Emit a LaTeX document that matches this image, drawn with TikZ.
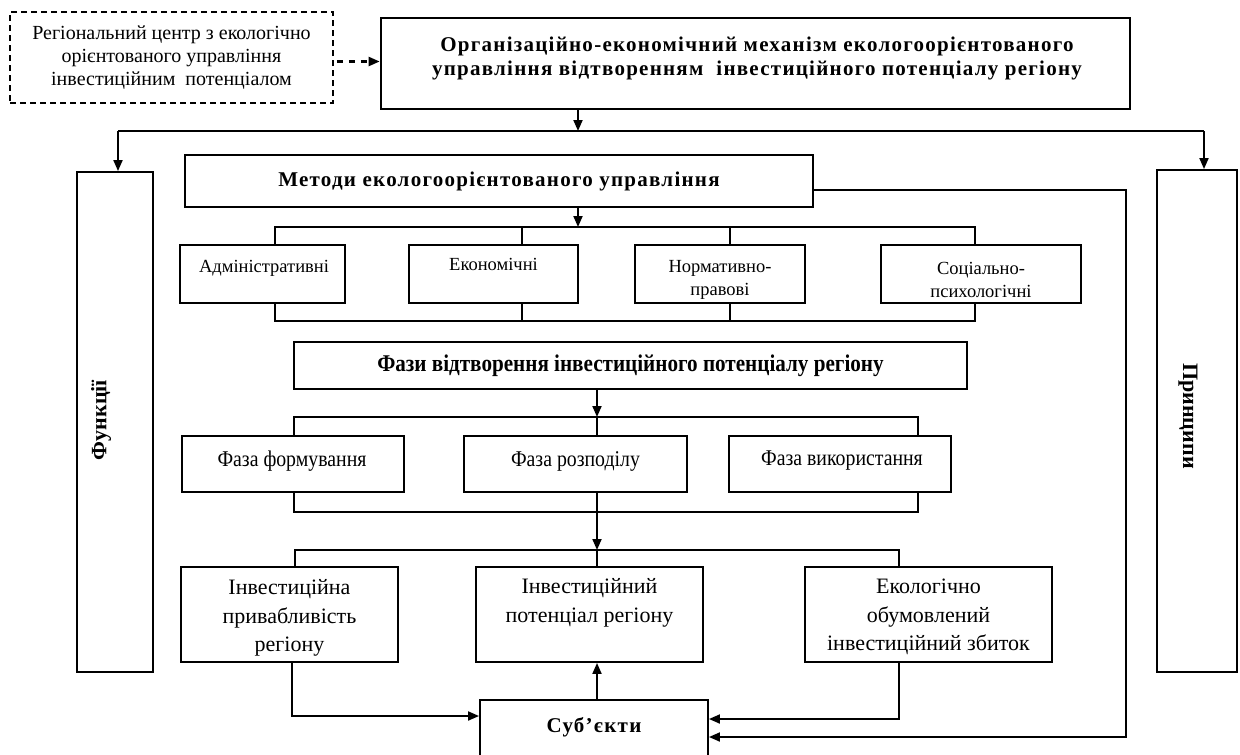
\documentclass[tikz,border=0pt]{standalone}
\usepackage{fontspec}
\setmainfont{Liberation Serif}
\newfontfamily\spaced[LetterSpace=6]{Liberation Serif}
\newfontfamily\narrowrm[FakeStretch=0.88]{Liberation Serif}
\usetikzlibrary{arrows.meta}

\begin{document}
\begin{tikzpicture}[x=1pt,y=-1pt,
  box/.style={draw, line width=1.9pt, inner sep=0pt},
  txt/.style={align=center, inner sep=0pt},
  conn/.style={line width=1.9pt},
  arr/.style={conn, -{Triangle[length=11pt,width=9pt]}},
  smalltxt/.style={txt, font=\fontsize{20}{23}\selectfont},
  methtxt/.style={txt, font=\fontsize{18.5}{23}\selectfont},
  phasetxt/.style={txt, font=\narrowrm\fontsize{22.5}{24}\selectfont},
  bigtxt/.style={txt, font=\fontsize{22}{28.5}\selectfont},
  headtxt/.style={txt, font=\spaced\bfseries\fontsize{20}{24}\selectfont}]
\useasboundingbox (0,0) rectangle (1240,755);

% --- top row: regional centre and the mechanism
\node[box, dashed, dash pattern=on 6pt off 4pt, minimum width=323pt, minimum height=91pt] (centre) at (171.5,57.5) {};
\node[smalltxt] (centreT) at (centre.center) {Регіональний центр з екологічно\\орієнтованого управління\\інвестиційним\ \ потенціалом};
\node[box, line width=2.7pt, minimum width=749pt, minimum height=91pt] (main) at (755.5,63.5) {};
\node[headtxt, font=\spaced\bfseries\fontsize{21}{24}\selectfont] (mainT) at (757,58) {Організаційно-економічний механізм екологоорієнтованого\\управління відтворенням\ \ інвестиційного потенціалу регіону};
\draw[line width=2.2pt, dash pattern=on 6pt off 6pt, dash phase=-3pt, -{Triangle[length=11pt,width=9pt]}] ([yshift=-4pt]centre.east) -- ([yshift=-4pt]centre.east -| main.west);

% --- side columns
\node[box, minimum width=76pt, minimum height=500pt] (func) at (115,422) {};
\node[txt, rotate=90, font=\bfseries\fontsize{22}{24}\selectfont] (funcT) at (101,420) {Функції};
\node[box, minimum width=80pt, minimum height=502pt] (princ) at (1197,421) {};
\node[txt, rotate=-90, font=\bfseries\fontsize{22}{24}\selectfont] (princT) at (1188,416) {Принципи};

\coordinate (j0) at (578,131);
\coordinate (jl) at (118,131);
\coordinate (jr) at (1204,131);
\draw[arr] (j0 |- main.south) -- (j0);
\draw[conn] (jl) -- (jr);
\draw[arr] (jl) -- (jl |- func.north);
\draw[arr] (jr) -- (jr |- princ.north);

% --- methods
\node[box, minimum width=628pt, minimum height=52pt] (meth) at (499,181) {};
\node[headtxt, font=\spaced\bfseries\fontsize{21}{24}\selectfont] (methT) at (meth.center) {Методи екологоорієнтованого управління};

\node[box, minimum width=165pt, minimum height=58pt] (adm) at (262.5,274) {};
\node[box, minimum width=169pt, minimum height=58pt] (eco) at (493.5,274) {};
\node[box, minimum width=170pt, minimum height=58pt] (norm) at (720,274) {};
\node[box, minimum width=200pt, minimum height=58pt] (soc) at (981,274) {};
\node[methtxt] (admT) at (264,268) {Адміністративні};
\node[methtxt] (ecoT) at (493.5,264) {Економічні};
\node[methtxt] (normT) at (720,279.5) {Нормативно-\\правові};
\node[methtxt] (socT) at (981,279.5) {Соціально-\\психологічні};

\coordinate (m0) at (578,227);
\draw[arr] (m0 |- meth.south) -- (m0);
\coordinate (d1) at (275,227);
\coordinate (d2) at (522,227);
\coordinate (d3) at (730,227);
\coordinate (d4) at (975,227);
\draw[conn] (d1 |- adm.north) -- (d1) -- (d4) -- (d4 |- soc.north);
\draw[conn] (d2) -- (d2 |- eco.north);
\draw[conn] (d3) -- (d3 |- norm.north);
\coordinate (e1) at (275,321);
\coordinate (e2) at (522,321);
\coordinate (e3) at (730,321);
\coordinate (e4) at (975,321);
\draw[conn] (e1 |- adm.south) -- (e1) -- (e4) -- (e4 |- soc.south);
\draw[conn] (e2) -- (e2 |- eco.south);
\draw[conn] (e3) -- (e3 |- norm.south);

% --- phases
\node[box, minimum width=673pt, minimum height=47pt] (phases) at (630.5,365.5) {};
\node[txt, font=\narrowrm\bfseries\fontsize{24}{26}\selectfont] (phasesT) at (phases.center) {Фази відтворення інвестиційного потенціалу регіону};

\node[box, minimum width=222pt, minimum height=56pt] (form) at (293,464) {};
\node[box, minimum width=223pt, minimum height=56pt] (rozp) at (575.5,464) {};
\node[box, minimum width=222pt, minimum height=56pt] (vyk) at (840,464) {};
\node[phasetxt] (formT) at (292,461) {Фаза формування};
\node[phasetxt] (rozpT) at (575.5,461) {Фаза розподілу};
\node[phasetxt] (vykT) at (842,461) {Фаза використання};

\coordinate (f0) at (597,417);
\coordinate (p1) at (294,417);
\coordinate (p3) at (918,417);
\draw[arr] (f0 |- phases.south) -- (f0);
\draw[conn] (f0) -- (f0 |- rozp.north);
\draw[conn] (p1 |- form.north) -- (p1) -- (p3) -- (p3 |- vyk.north);
\coordinate (q0) at (597,512);
\coordinate (q1) at (294,512);
\coordinate (q3) at (918,512);
\draw[conn] (q1 |- form.south) -- (q1) -- (q3) -- (q3 |- vyk.south);
\draw[conn] (q0 |- rozp.south) -- (q0);

% --- results
\node[box, minimum width=217pt, minimum height=95pt] (attr) at (289.5,614.5) {};
\node[box, minimum width=227pt, minimum height=95pt] (pot) at (589.5,614.5) {};
\node[box, minimum width=247pt, minimum height=95pt] (loss) at (928.5,614.5) {};
\node[bigtxt] (attrT) at (289.5,618) {Інвестиційна\\привабливість\\регіону};
\node[bigtxt] (potT) at (589.5,603) {Інвестиційний\\потенціал регіону};
\node[bigtxt] (lossT) at (928.5,617) {Екологічно\\обумовлений\\інвестиційний збиток};

\coordinate (l0) at (597,550);
\coordinate (l1) at (295,550);
\coordinate (l3) at (899,550);
\draw[arr] (q0) -- (l0);
\draw[conn] (l1 |- attr.north) -- (l1) -- (l3) -- (l3 |- loss.north);
\draw[conn] (l0) -- (l0 |- pot.north);

% --- subjects
\node[box, minimum width=228pt, minimum height=62pt] (subj) at (594,731) {};
\node[headtxt, font=\spaced\bfseries\fontsize{21}{24}\selectfont] (subjT) at (594,727) {Суб’єкти};

\draw[arr] (subj.north -| l0) -- (pot.south -| l0);
\coordinate (a1) at (292,716);
\draw[arr] (a1 |- attr.south) -- (a1) -- (a1 -| subj.west);
\coordinate (a2) at (899,719);
\draw[arr] (a2 |- loss.south) -- (a2) -- (a2 -| subj.east);
\coordinate (rr) at (1126,190);
\coordinate (s2) at (1126,737);
\draw[arr] (meth.east |- rr) -- (rr) -- (s2) -- (s2 -| subj.east);
\end{tikzpicture}
\end{document}
